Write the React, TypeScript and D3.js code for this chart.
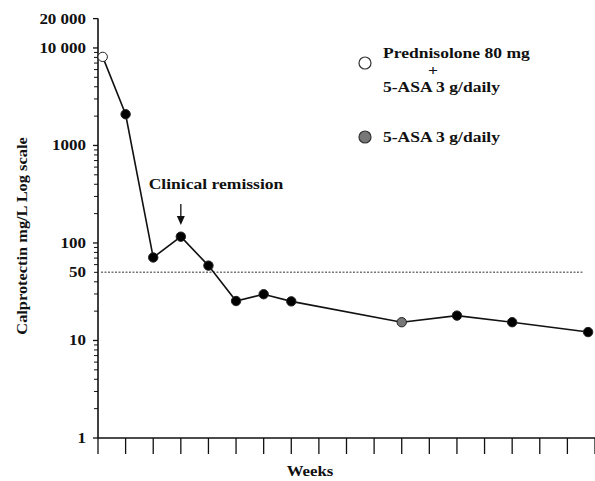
import React, { useEffect, useRef } from "react";
import * as d3 from "d3";

const weeks = [0.17, 1, 2, 3, 4, 5, 6, 7, 11, 13, 15, 17.75];
const calprotectin = [8100, 2090, 71, 116, 58.6, 25.4, 29.8, 25.2, 15.4, 18, 15.4, 12.2];
const treatment = ["pred", "asa", "asa", "asa", "asa", "asa", "asa", "asa", "asaGray", "asa", "asa", "asa"];
const yTickValues = [1, 10, 50, 100, 1000, 10000, 20000];
const yTickLabels = ["1", "10", "50", "100", "1000", "10 000", "20 000"];
const cutoff = 50;

const W = 595;
const H = 481;

export default function App() {
  const ref = useRef<SVGSVGElement | null>(null);

  useEffect(() => {
    const svg = d3.select(ref.current);
    svg.selectAll("*").remove();

    const font = "'Liberation Serif', 'Times New Roman', serif";
    const x = d3.scaleLinear().domain([0, 18]).range([98, 595]);
    const y = d3.scaleLog().domain([1, 20000]).range([438, 18.6]);

    const g = svg.append("g");

    // bold serif text, stretched a little horizontally like the original
    const label = (
      tx: number,
      ty: number,
      s: string,
      opts: { anchor?: string; size?: number; sx?: number; rotate?: number } = {}
    ) =>
      g.append("text")
        .attr(
          "transform",
          `translate(${tx},${ty}) rotate(${opts.rotate ?? 0}) scale(${opts.sx ?? 1.17},1)`
        )
        .attr("text-anchor", opts.anchor ?? "start")
        .attr("font-family", font)
        .attr("font-weight", "bold")
        .attr("font-size", opts.size ?? 15)
        .attr("fill", "#111")
        .text(s);

    // y axis line
    g.append("line")
      .attr("x1", 98).attr("x2", 98)
      .attr("y1", y(20000)).attr("y2", y(1))
      .attr("stroke", "#111").attr("stroke-width", 1.6);

    // minor ticks 2..9 per decade
    const minor: number[] = [];
    for (let d = 1; d <= 1000; d *= 10) {
      for (let k = 2; k <= 9; k++) minor.push(k * d);
    }
    g.selectAll(".minor")
      .data(minor)
      .enter()
      .append("line")
      .attr("x1", 94).attr("x2", 98)
      .attr("y1", (d) => y(d)).attr("y2", (d) => y(d))
      .attr("stroke", "#111").attr("stroke-width", 1);

    g.selectAll(".major")
      .data([1, 10, 100, 1000, 10000, 20000])
      .enter()
      .append("line")
      .attr("x1", 93).attr("x2", 98)
      .attr("y1", (d) => y(d)).attr("y2", (d) => y(d))
      .attr("stroke", "#111").attr("stroke-width", 1.3);

    yTickValues.forEach((v, i) =>
      label(86, y(v) + 5, yTickLabels[i], { anchor: "end", size: 14.5 })
    );

    // x axis
    g.append("line")
      .attr("x1", 98).attr("x2", 595)
      .attr("y1", y(1)).attr("y2", y(1))
      .attr("stroke", "#111").attr("stroke-width", 1.6);

    g.selectAll(".xtick")
      .data(d3.range(0, 19))
      .enter()
      .append("line")
      .attr("x1", (d) => x(d)).attr("x2", (d) => x(d))
      .attr("y1", y(1)).attr("y2", y(1) + 16)
      .attr("stroke", "#111").attr("stroke-width", 1.3);

    // axis titles
    label(310, 476, "Weeks", { anchor: "middle", sx: 1.12 });
    label(26.5, 236, "Calprotectin mg/L Log scale", { anchor: "middle", size: 14, rotate: -90 });

    // cutoff line
    g.append("line")
      .attr("x1", 101).attr("x2", 583)
      .attr("y1", y(cutoff)).attr("y2", y(cutoff))
      .attr("stroke", "#777").attr("stroke-width", 1.5)
      .attr("stroke-dasharray", "2,1.5");

    // data line
    const pts = weeks.map((w, i) => ({ w, v: calprotectin[i], t: treatment[i] }));
    const line = d3.line<{ w: number; v: number }>()
      .x((d) => x(d.w))
      .y((d) => y(d.v));
    g.append("path")
      .datum(pts)
      .attr("d", line)
      .attr("fill", "none")
      .attr("stroke", "#111")
      .attr("stroke-width", 1.6);

    const fillFor = (t: string) => (t === "pred" ? "#fff" : t === "asaGray" ? "#777" : "#000");
    g.selectAll(".pt")
      .data(pts)
      .enter()
      .append("circle")
      .attr("cx", (d) => x(d.w))
      .attr("cy", (d) => y(d.v))
      .attr("r", 4.7)
      .attr("fill", (d) => fillFor(d.t))
      .attr("stroke", "#222")
      .attr("stroke-width", 1);

    // annotation
    const ax = x(weeks[3]);
    label(216, 189, "Clinical remission", { anchor: "middle" });
    g.append("line")
      .attr("x1", ax).attr("x2", ax)
      .attr("y1", 204).attr("y2", 218)
      .attr("stroke", "#111").attr("stroke-width", 1.3);
    g.append("path")
      .attr("d", `M${ax - 4},216 L${ax + 4},216 L${ax},225 Z`)
      .attr("fill", "#111");

    // legend
    g.append("circle")
      .attr("cx", 365).attr("cy", 63).attr("r", 6)
      .attr("fill", "#fff").attr("stroke", "#333").attr("stroke-width", 1.2);
    g.append("circle")
      .attr("cx", 365).attr("cy", 137).attr("r", 6)
      .attr("fill", "#777").attr("stroke", "#333").attr("stroke-width", 1.2);
    label(383, 57.5, "Prednisolone 80 mg");
    label(433, 75, "+", { anchor: "middle" });
    label(383, 92, "5-ASA 3 g/daily");
    label(383, 142, "5-ASA 3 g/daily");
  }, []);

  return (
    <svg
      ref={ref}
      width={W}
      height={H}
      style={{ position: "absolute", left: 0, top: 0, background: "#fff" }}
    />
  );
}
